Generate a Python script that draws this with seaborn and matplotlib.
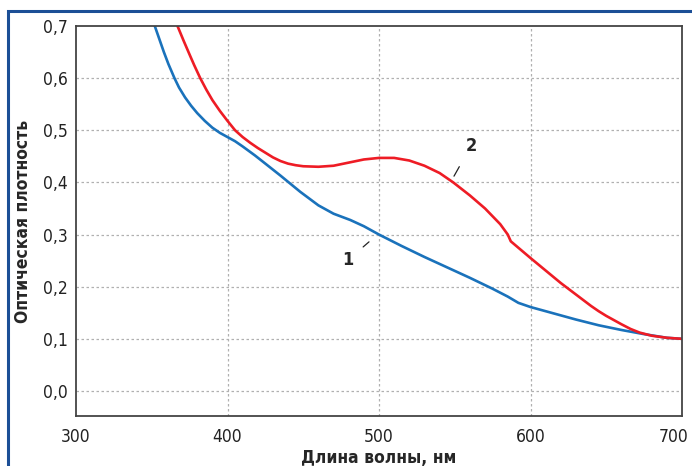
import numpy as np
import pandas as pd
import matplotlib
matplotlib.use("Agg")
import matplotlib.pyplot as plt
import seaborn as sns
from matplotlib import font_manager
from matplotlib.patches import Rectangle
from matplotlib.transforms import ScaledTranslation

# кривая 1
wl_1 = [352, 355, 358, 361, 365, 368, 372, 376, 380, 385, 390, 395, 400, 405, 410, 418,
        425, 435, 448, 460, 470, 481, 490, 500, 515, 530, 545, 560, 575, 585, 592, 600,
        615, 630, 645, 660, 675, 690, 700]
od_1 = [0.70, 0.675, 0.65, 0.627, 0.60, 0.582, 0.563, 0.547, 0.533, 0.518, 0.505, 0.495,
        0.487, 0.479, 0.469, 0.452, 0.436, 0.413, 0.382, 0.356, 0.34, 0.328, 0.316, 0.30,
        0.278, 0.257, 0.237, 0.217, 0.196, 0.181, 0.169, 0.161, 0.149, 0.137, 0.126,
        0.117, 0.109, 0.102, 0.10]

# кривая 2
wl_2 = [367, 371, 375, 378, 382, 386, 390, 395, 400, 405, 410, 415, 420, 425, 430, 435,
        440, 445, 450, 460, 470, 480, 490, 500, 510, 520, 530, 540, 549, 560, 570, 580,
        585, 587, 600, 620, 630, 640, 645, 650, 655, 660, 666, 672, 680, 690, 700]
od_2 = [0.70, 0.672, 0.645, 0.625, 0.60, 0.578, 0.558, 0.537, 0.518, 0.50, 0.487, 0.476,
        0.466, 0.457, 0.448, 0.441, 0.436, 0.433, 0.431, 0.43, 0.432, 0.438, 0.444, 0.447,
        0.447, 0.442, 0.432, 0.418, 0.40, 0.375, 0.35, 0.32, 0.30, 0.287, 0.255, 0.207,
        0.185, 0.163, 0.153, 0.144, 0.136, 0.128, 0.119, 0.112, 0.106, 0.102, 0.10]

xticks = [300, 400, 500, 600, 700]
yticks = [0.0, 0.1, 0.2, 0.3, 0.4, 0.5, 0.6, 0.7]

sns.set_theme(style="white")
names = {f.name for f in font_manager.fontManager.ttflist}
if "Liberation Sans Narrow" in names:
    fam = ["Liberation Sans Narrow", "DejaVu Sans"]
    stretch = "normal"
else:
    fam = ["DejaVu Sans"]
    stretch = "condensed"
plt.rcParams["font.family"] = fam
plt.rcParams["font.stretch"] = stretch

df = pd.concat([
    pd.DataFrame({"wl": wl_1, "od": od_1, "curve": "1"}),
    pd.DataFrame({"wl": wl_2, "od": od_2, "curve": "2"}),
])

fig = plt.figure(figsize=(6.92, 4.66), dpi=100)
ax = fig.add_axes([76 / 692, 50 / 466, 606 / 692, 390 / 466])

sns.lineplot(data=df, x="wl", y="od", hue="curve", palette={"1": "#1a72bb", "2": "#ee1c25"},
             linewidth=1.9, legend=False, ax=ax, sort=False)

ax.set_xlim(300, 700)
ax.set_ylim(-0.048, 0.7)
ax.set_xticks(xticks)
ax.set_yticks(yticks)
ax.set_xticklabels([str(t) for t in xticks])
ax.set_yticklabels([f"{t:.1f}".replace(".", ",") for t in yticks])
ax.tick_params(axis="both", labelsize=12.5, direction="in", length=2, width=0.8,
               color="#555555", labelcolor="#222222", pad=6)
ax.tick_params(axis="x", pad=9)

# последняя подпись 700 не должна вылезать за край
last = ax.get_xticklabels()[-1]
last.set_ha("right")
last.set_transform(last.get_transform() + ScaledTranslation(6 / 100, 0, fig.dpi_scale_trans))

for v in [400, 500, 600]:
    ax.axvline(v, color="#b0b0b0", lw=0.9, ls=(0, (2, 2)), zorder=0)
for v in yticks[:-1]:
    ax.axhline(v, color="#b0b0b0", lw=0.9, ls=(0, (2, 2)), zorder=0)

for s in ax.spines.values():
    s.set_color("#444444")
    s.set_linewidth(1.3)

ax.set_xlabel("Длина волны, нм", fontsize=12.5, fontweight="bold", labelpad=2)
ax.set_ylabel("Оптическая плотность", fontsize=12.5, fontweight="bold", labelpad=8)

ax.annotate("1", xy=(493.4, 0.286), xytext=(479.5, 0.251), fontsize=13, fontweight="bold",
            ha="center", va="center",
            arrowprops=dict(arrowstyle="-", color="#222222", lw=0.9, shrinkA=6, shrinkB=0))
ax.annotate("2", xy=(549.5, 0.412), xytext=(560.7, 0.470), fontsize=13, fontweight="bold",
            ha="center", va="center",
            arrowprops=dict(arrowstyle="-", color="#222222", lw=0.9, shrinkA=7, shrinkB=0))

fig.patches.append(Rectangle((8 / 692, -0.1), 1.2, (466 - 11) / 466 + 0.1,
                             transform=fig.transFigure, fill=False,
                             edgecolor="#1c4f96", linewidth=2.2))

fig.savefig("out.png", dpi=100)
